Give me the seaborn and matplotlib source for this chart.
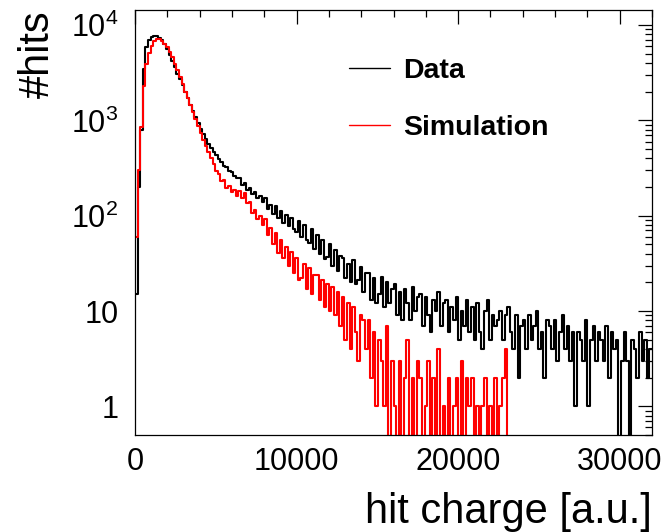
import matplotlib
matplotlib.use("Agg")
import matplotlib.pyplot as plt
from matplotlib.lines import Line2D
from matplotlib.ticker import FixedLocator, FixedFormatter, MultipleLocator, LogLocator, NullFormatter
import numpy as np
import pandas as pd
import seaborn as sns

# histogram binning (hit charge, a.u.)
bin_width = 160
x_max = 32000

# Data counts per bin (200 bins, 0..32000)
data_counts = [
    15, 200, 800, 3500, 5900, 6900, 7450, 7600, 7600, 7350,
    6900, 6300, 5600, 4900, 4200, 3600, 3100, 2700, 2350, 2000,
    1700, 1450, 1250, 1080, 940, 820, 720, 640, 570, 510,
    470, 435, 392, 370, 335, 322, 295, 285, 260, 250,
    246, 212, 220, 188, 196, 168, 176, 152, 160, 138,
    152, 118, 131, 104, 126, 95, 112, 84, 101, 78,
    95, 72, 68, 88, 60, 79, 56, 52, 72, 45,
    62, 40, 55, 35, 37, 50, 30, 44, 26, 38,
    36, 22, 31, 20, 34, 19, 21, 29, 16, 25,
    25, 13, 22, 12, 15, 23, 11, 20, 12, 17,
    19, 9, 16, 8, 17, 12, 8, 18, 10, 14,
    15, 7, 14, 9, 6, 13, 10, 16, 7, 12,
    13, 6, 11, 8, 14, 5, 10, 7, 13, 6,
    11, 5, 12, 6, 4, 10, 13, 5, 9, 7,
    8, 10, 5, 9, 11, 6, 4, 9, 2, 7,
    8, 4, 9, 5, 7, 10, 4, 6, 2, 8,
    7, 4, 8, 3, 6, 9, 4, 7, 3, 6,
    1, 6, 5, 3, 8, 1, 5, 7, 3, 6,
    5, 3, 7, 2, 6, 4, 5, 0, 3, 6,
    3, 0, 5, 4, 2, 6, 3, 5, 2, 4,
]

# Simulation counts per bin (nothing filled above ~23000)
sim_counts = [
    60, 300, 850, 2300, 3900, 5100, 6100, 6750, 7150, 7100,
    6800, 6400, 5850, 5250, 4600, 3950, 3400, 2850, 2400, 2000,
    1700, 1450, 1230, 1040, 870, 740, 630, 540, 465, 400,
    352, 292, 275, 232, 236, 196, 205, 176, 188, 162,
    180, 155, 172, 135, 138, 106, 114, 92, 99, 80,
    92, 62, 75, 50, 66, 41, 55, 36, 47, 30,
    42, 25, 36, 21, 22, 31, 17, 28, 15, 24,
    24, 13, 21, 11, 19, 10, 18, 9, 16, 7,
    14, 5, 12, 4, 11, 6, 3, 9, 8, 4,
    8, 2, 6, 1, 5, 3, 1, 7, 0, 3,
    1, 0, 3, 0, 2, 5, 0, 2, 0, 3,
    2, 0, 1, 3, 0, 2, 0, 4, 0, 1,
    0, 2, 0, 1, 2, 0, 3, 0, 2, 1,
    2, 0, 1, 0, 1, 2, 0, 1, 0, 2,
    0, 1, 2, 4,
] + [0] * 56

labels = ["Data", "Simulation"]
colors = ["black", "red"]

y_ticks = [1, 10, 100, 1000, 10000]
y_ticklabels = ["1", "10", "$10^{2}$", "$10^{3}$", "$10^{4}$"]

centers = np.arange(len(data_counts)) * bin_width + bin_width / 2
df = pd.DataFrame({"charge": centers, "Data": data_counts, "Simulation": sim_counts})

sns.set_style("white")
plt.rcParams["font.family"] = ["Liberation Sans", "DejaVu Sans"]
plt.rcParams["mathtext.fontset"] = "custom"
plt.rcParams["mathtext.rm"] = "Liberation Sans"
plt.rcParams["mathtext.it"] = "Liberation Sans:italic"
for key in ["text.color", "axes.labelcolor", "xtick.color", "ytick.color"]:
    plt.rcParams[key] = "black"

fig = plt.figure(figsize=(6.67, 5.32), dpi=100)
ax = fig.add_axes([135 / 667, 1 - 435 / 532, 517 / 667, 425 / 532])

for name, col in zip(labels, colors):
    sns.histplot(data=df, x="charge", weights=name, binwidth=bin_width,
                 binrange=(0, x_max), element="step", fill=False,
                 color=col, alpha=1, linewidth=1.5, ax=ax)

ax.set_yscale("log")
ax.set_xlim(0, x_max)
ax.set_ylim(0.5, 14400)

ax.xaxis.set_major_locator(MultipleLocator(10000))
ax.xaxis.set_minor_locator(MultipleLocator(2000))
ax.yaxis.set_major_locator(FixedLocator(y_ticks))
ax.yaxis.set_major_formatter(FixedFormatter(y_ticklabels))
ax.yaxis.set_minor_locator(LogLocator(base=10, subs=np.arange(2, 10)))
ax.yaxis.set_minor_formatter(NullFormatter())

ax.tick_params(axis="both", which="both", direction="in", top=True, right=True,
               width=0.9, labelsize=22)
ax.tick_params(axis="both", which="major", length=10)
ax.tick_params(axis="both", which="minor", length=5)
ax.tick_params(axis="x", which="major", pad=9)
ax.tick_params(axis="y", which="major", pad=12)
for sp in ax.spines.values():
    sp.set_linewidth(0.9)
    sp.set_color("black")

ax.set_xlabel("hit charge [a.u.]", fontsize=30, loc="right")
ax.xaxis.set_label_coords(1.0, -0.134)
ax.set_ylabel("#hits", fontsize=30, loc="top")
ax.yaxis.set_label_coords(-0.15, 1.0)

handles = [Line2D([], [], color=c, linewidth=1.0) for c in colors]
ax.legend(handles, labels, loc="upper left", bbox_to_anchor=(0.414, 0.888),
          frameon=False, borderpad=0, borderaxespad=0, handlelength=1.45,
          handletextpad=0.45, labelspacing=1.1,
          prop={"weight": "bold", "size": 20.5})

fig.savefig("out.png", dpi=100)
